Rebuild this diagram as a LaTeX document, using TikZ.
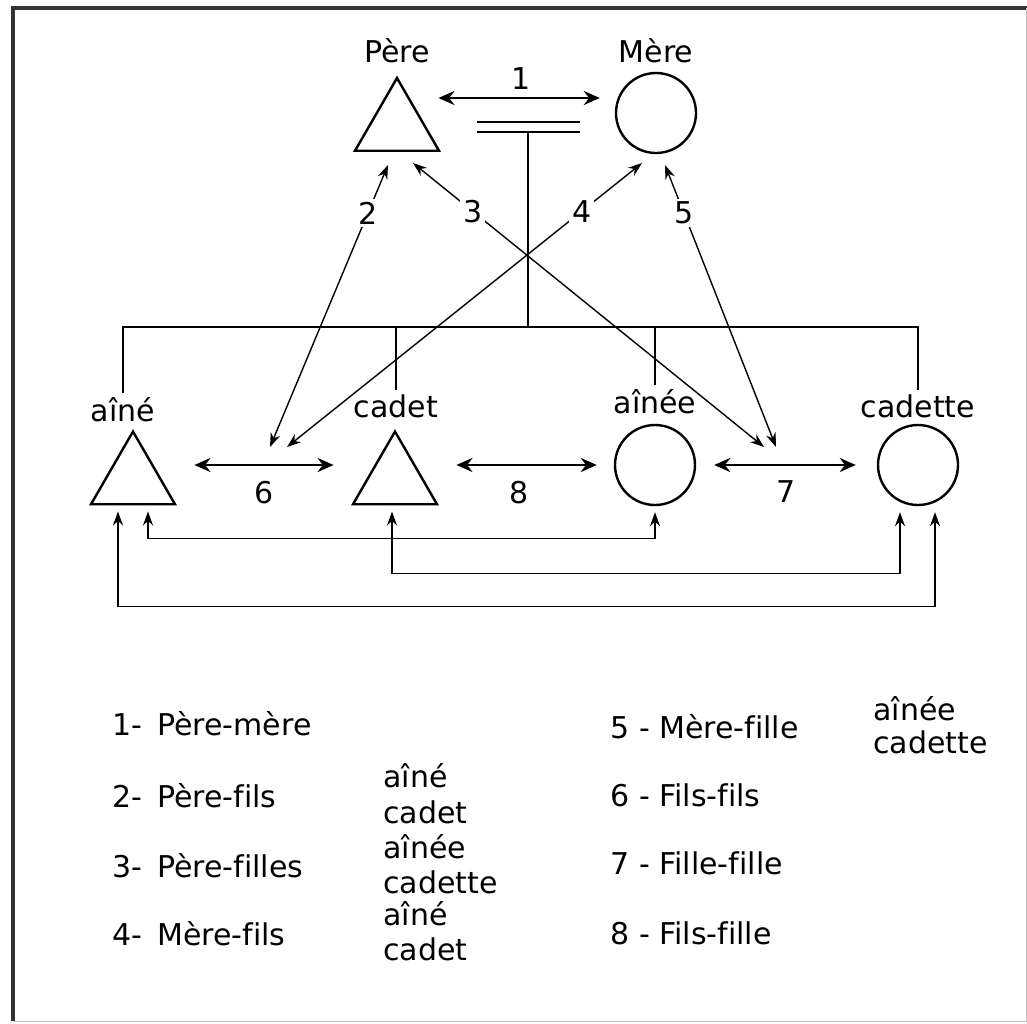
\documentclass[tikz,border=0pt]{standalone}
\usepackage{fontspec}
\setmainfont{DejaVu Sans}[Ligatures=NoCommon]
\usetikzlibrary{arrows.meta,calc,shapes.geometric}

\tikzset{
  homme/.style={draw,line width=1.2pt,regular polygon,regular polygon sides=3,minimum size=48.5pt,inner sep=0pt},
  femme/.style={draw,line width=1.2pt,circle,minimum size=40pt,inner sep=0pt},
  nom/.style={anchor=base,inner sep=2pt},
  legende/.style={anchor=base west,inner sep=0pt},
  trait/.style={line width=0.7pt},
  lien/.style={line width=0.7pt,{Stealth[length=7pt,width=5pt]}-{Stealth[length=7pt,width=5pt]}},
  couple/.style={line width=1.4pt,{Stealth[length=8pt,width=7pt]}-{Stealth[length=8pt,width=7pt]}},
  num/.style={fill=white,inner sep=1.5pt},
}

\begin{document}
\begin{tikzpicture}[x=0.5pt,y=-0.5pt,font=\fontsize{15}{18}\selectfont]
\useasboundingbox (0,0) rectangle (1027,1023);
% cadre
\draw[line width=2pt,black!80] (1027,8) -- (13,8) -- (13,1021);
\draw[black!25,line width=0.5pt] (13,1021) -- (1026,1021) -- (1026,8);

% parents
\node[homme] (pere) at (397,126.5) {};
\node[femme] (mere) at (656,113) {};
\node[nom] (pereL) at (397,62) {Père};
\node[nom] (mereL) at (656,62) {Mère};

% enfants
\node[homme] (aine) at (133,480) {};
\node[homme] (cadet) at (395,480) {};
\node[femme] (ainee) at (655,465) {};
\node[femme] (cadette) at (918,465) {};
\node[nom] (aineL) at (123,421) {aîné};
\node[nom] (cadetL) at (396,417) {cadet};
\node[nom] (aineeL) at (655,413) {aînée};
\node[nom] (cadetteL) at (918,417) {cadette};

% mariage et fratrie
\draw[couple,shorten <=6pt,shorten >=7.5pt] ([yshift=14.25pt]pere.east) -- node[above] (n1) {1} ([yshift=7.5pt]mere.west);
\draw[trait] (477,122) -- (580,122);
\draw[trait] (477,132) -- (580,132);
\coordinate (mariage) at (528,132);
\coordinate (fratrie) at (528,327);
\draw[trait] (mariage) -- (fratrie);
\draw[trait] (aineL.north) -- (aineL.north |- fratrie) -- (cadetteL.north |- fratrie) -- (cadetteL.north);
\draw[trait] (cadetL.north) -- (cadetL.north |- fratrie);
\draw[trait] (aineeL.north) -- (aineeL.north |- fratrie);

% parents - enfants
\coordinate (p2) at (388,165);
\coordinate (f2) at (270,447);
\coordinate (p3) at (413,163);
\coordinate (f3) at (764,447);
\coordinate (m4) at (642,163);
\coordinate (f4) at (287,447);
\coordinate (m5) at (665,165);
\coordinate (f5) at (776,447);
\draw[lien] (p2) -- node[num,pos=.17] (n2) {2} (f2);
\draw[lien] (p3) -- node[num,pos=.17] (n3) {3} (f3);
\draw[lien] (m4) -- node[num,pos=.17] (n4) {4} (f4);
\draw[lien] (m5) -- node[num,pos=.17] (n5) {5} (f5);

% enfants - enfants
\draw[couple,shorten <=16pt,shorten >=16pt] ([yshift=7.5pt]aine.east) -- node[below=4pt] (n6) {6} ([yshift=7.5pt]cadet.west);
\draw[couple,shorten <=16pt,shorten >=8.5pt] ([yshift=7.5pt]cadet.east) -- node[below=4pt] (n8) {8} (ainee.west);
\draw[couple,shorten <=9pt,shorten >=10.5pt] (ainee.east) -- node[below=4pt] (n7) {7} (cadette.west);
\draw[lien] ($(aine.south)+(15,6)$) -- ++(0,27) -| ($(ainee.south)+(0,6)$);
\draw[lien] ($(cadet.south)+(-3,6)$) -- ++(0,62) -| ($(cadette.south)+(-18,6)$);
\draw[lien] ($(aine.south)+(-15,6)$) -- ++(0,95) -| ($(cadette.south)+(17,6)$);

% legende
\foreach \y/\t [count=\i] in {735/1-\enspace Père-mère, 807/2-\enspace Père-fils, 877/3-\enspace Père-filles, 945/4-\enspace Mère-fils}
  \node[legende] (g\i) at (112,\y) {\t};
\foreach \y/\t [count=\i] in {738/5 - Mère-fille, 806/6 - Fils-fils, 874/7 - Fille-fille, 944/8 - Fils-fille}
  \node[legende] (d\i) at (610,\y) {\t};
\foreach \y/\t [count=\i] in {787/aîné, 823/cadet, 858/aînée, 893/cadette, 925/aîné, 960/cadet}
  \node[legende] (s\i) at (383,\y) {\t};
\foreach \y/\t [count=\i] in {720/aînée, 753/cadette}
  \node[legende] (r\i) at (873,\y) {\t};
\end{tikzpicture}
\end{document}
